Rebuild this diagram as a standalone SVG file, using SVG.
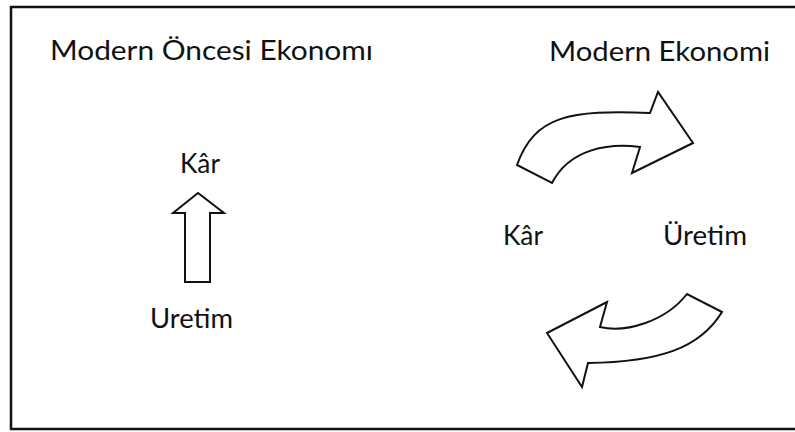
<svg xmlns="http://www.w3.org/2000/svg" width="795" height="432" viewBox="0 0 795 432">
  <style>
    .t { font-family: Lato, "Liberation Sans", "DejaVu Sans", sans-serif; font-size: 26px; fill: #111; }
    .arrow { fill: #fff; stroke: #111; stroke-width: 2; stroke-linejoin: miter; }
    .frame { fill: none; stroke: #111; stroke-width: 2.5; }
  </style>
  <rect width="795" height="432" fill="#fff"/>
  <path class="frame" d="M800,7 H11 V429 H800"/>

  <g id="title-left"><text class="t" x="50" y="60" textLength="323" lengthAdjust="spacingAndGlyphs">Modern Öncesi Ekonomı</text></g>
  <g id="title-right"><text class="t" x="549" y="61" textLength="221" lengthAdjust="spacingAndGlyphs">Modern Ekonomi</text></g>

  <g id="kar-left"><text class="t" x="180" y="173" textLength="40" lengthAdjust="spacingAndGlyphs">Kâr</text></g>
  <g id="uretim-left"><text class="t" x="150" y="328" textLength="83" lengthAdjust="spacingAndGlyphs">Uretim</text></g>

  <g id="kar-right"><text class="t" x="503" y="245" textLength="40" lengthAdjust="spacingAndGlyphs">Kâr</text></g>
  <g id="uretim-right"><text class="t" x="663" y="245" textLength="84" lengthAdjust="spacingAndGlyphs">Üretim</text></g>

  <g id="connectors">
    <path class="arrow" d="M185,282 L185,213 L173,213 L198,193 L224,213 L210,213 L210,282 Z"/>
    <path class="arrow" d="M517,165 C535,115 570,110 650,113 L658,92 L693,143 L632,173 L640,147 C610,143 570,148 552,183 Z"/>
    <path class="arrow" d="M547,333 L607,302 L600,327 C625,333 665,322 687,294 L722,312 C700,348 660,362 588,363 L582,387 Z"/>
  </g>
</svg>
